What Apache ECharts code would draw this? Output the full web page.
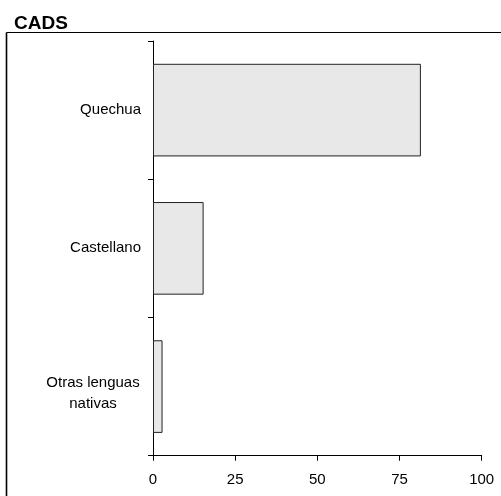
<!DOCTYPE html>
<html><head><meta charset="utf-8">
<script src="https://cdn.jsdelivr.net/npm/echarts@6/dist/echarts.min.js"></script>
<style>html,body{margin:0;padding:0;background:#fff}#c{width:501px;height:496px}</style>
</head><body><div id="c"></div>
<script>
const categories = ['Quechua', 'Castellano', 'Otras lenguas\nnativas'];
const values = [81.5, 15.4, 2.9];
const xTicks = [0, 25, 50, 75, 100];

const chart = echarts.init(document.getElementById('c'), null, {renderer: 'canvas'});
const font = 'Liberation Sans, Arial, sans-serif';
const catData = categories.map(c => c.indexOf('\n') >= 0 ? {value: c, textStyle: {padding: [13, 0, 0, 0]}} : c);
chart.setOption({
  animation: false,
  title: {text: 'CADS', left: 9, top: 9, textStyle: {fontFamily: font, fontWeight: 'bold', fontSize: 19, color: '#000'}},
  graphic: [
    {type: 'line', shape: {x1: 6.5, y1: 32.5, x2: 520, y2: 32.5}, style: {stroke: '#000', lineWidth: 1.2}, silent: true},
    {type: 'line', shape: {x1: 6.5, y1: 32.5, x2: 6.5, y2: 520}, style: {stroke: '#000', lineWidth: 1.6}, silent: true}
  ],
  grid: {left: 153, right: 19.3, top: 41, bottom: 40.3, containLabel: false},
  xAxis: {
    type: 'value', min: xTicks[0], max: xTicks[xTicks.length - 1], interval: 25,
    splitLine: {show: false},
    axisLine: {show: true, lineStyle: {color: '#000', width: 1}},
    axisTick: {show: true, length: 5, lineStyle: {color: '#000'}},
    axisLabel: {color: '#000', fontFamily: font, fontSize: 15, margin: 17}
  },
  yAxis: {
    type: 'category', inverse: true, data: catData,
    axisLine: {show: true, lineStyle: {color: '#000', width: 1}},
    axisTick: {show: true, length: 5, lineStyle: {color: '#000'}},
    axisLabel: {
      color: '#000', fontFamily: font, fontSize: 15, margin: 12,
      formatter: v => v.indexOf('\n') >= 0 ? v.split('\n').map(s => '{c|' + s + '}').join('\n') : v,
      rich: {c: {width: 96, align: 'center', fontFamily: font, fontSize: 15, lineHeight: 21, color: '#000'}}
    }
  },
  series: [{
    type: 'bar', data: values, barCategoryGap: '33%',
    itemStyle: {color: '#e8e8e8', borderColor: '#222', borderWidth: 1}
  }]
});
</script></body></html>
